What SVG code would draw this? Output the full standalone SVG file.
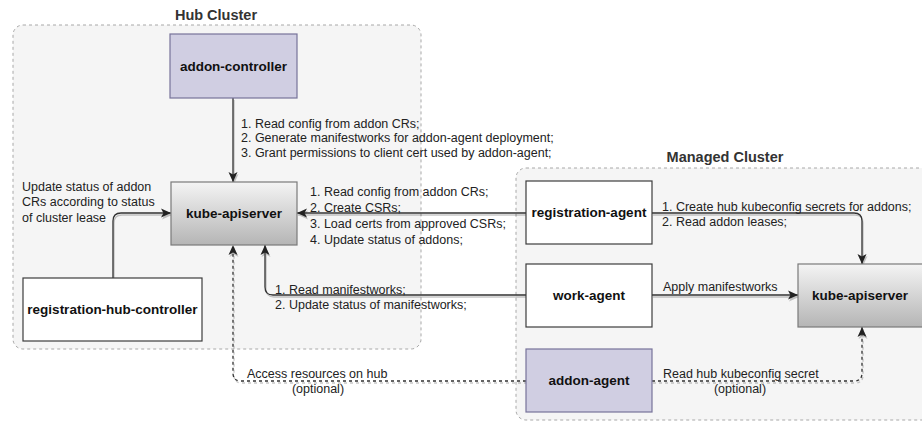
<svg xmlns="http://www.w3.org/2000/svg" width="922" height="422" viewBox="0 0 922 422">
<style>
.cluster{fill:#f5f5f5;stroke:#a8a8a8;stroke-width:1;stroke-dasharray:3 3}
.title{font-family:"Liberation Sans",Arial,sans-serif;font-weight:bold;font-size:14.5px;fill:#333;text-anchor:middle}
.node-white{fill:#fff;stroke:#3c3c3c;stroke-width:1.2}
.node-purple{fill:#d0cee2;stroke:#77739a;stroke-width:1.2}
.node-grey{fill:url(#g);stroke:#7a7a7a;stroke-width:1.2}
.nt{font-family:"Liberation Sans",Arial,sans-serif;font-weight:bold;font-size:13.5px;fill:#111;text-anchor:middle;dominant-baseline:central}
.lbl{font-family:"Liberation Sans",Arial,sans-serif;font-size:12.5px;fill:#222}
.c{fill:none;stroke:#333;stroke-width:1.3;marker-end:url(#arr)}
.d{stroke-dasharray:3 3}
</style>
<defs>
<linearGradient id="g" x1="0" y1="0" x2="0" y2="1">
<stop offset="0" stop-color="#f4f4f4"/>
<stop offset="1" stop-color="#b5b5b5"/>
</linearGradient>
<marker id="arr" markerUnits="userSpaceOnUse" markerWidth="11" markerHeight="10" refX="10" refY="5" orient="auto">
<path d="M0,0.5 L10,5 L0,9.5 L2.5,5 Z" fill="#222" stroke="none"/>
</marker>
<filter id="sh" x="-5%" y="-5%" width="110%" height="120%">
<feDropShadow dx="1" dy="2" stdDeviation="0.6" flood-color="#000" flood-opacity="0.22"/>
</filter>
</defs>

<g id="hub-cluster">
<rect class="cluster" x="13" y="25" width="408" height="324" rx="10"/>
<text class="title" x="216" y="20">Hub Cluster</text>
</g>
<g id="managed-cluster">
<rect class="cluster" x="516" y="168" width="420" height="252" rx="10"/>
<text class="title" x="725" y="162">Managed Cluster</text>
</g>

<g id="connectors" filter="url(#sh)">
<path class="c" d="M233,98 V182"/>
<path class="c" d="M113,278 V221 Q113,213 121,213 H171"/>
<path class="c" d="M526,213 H297"/>
<path class="c" d="M526,295 H273 Q265,295 265,287 V245"/>
<path class="c d" d="M526,381 H241 Q233,381 233,373 V245"/>
<path class="c" d="M652,213 H854 Q862,213 862,221 V264"/>
<path class="c" d="M652,295 H798"/>
<path class="c d" d="M652,381 H854 Q862,381 862,373 V327"/>
</g>

<g id="labels">
<text class="lbl" x="241" y="127.5">1. Read config from addon CRs;</text>
<text class="lbl" x="241" y="142">2. Generate manifestworks for addon-agent deployment;</text>
<text class="lbl" x="241" y="156.5">3. Grant permissions to client cert used by addon-agent;</text>
<text class="lbl" x="22" y="190.5">Update status of addon</text>
<text class="lbl" x="22" y="206">CRs according to status</text>
<text class="lbl" x="22" y="221.5">of cluster lease</text>
<text class="lbl" x="310" y="195.5">1. Read config from addon CRs;</text>
<text class="lbl" x="310" y="211.5">2. Create CSRs;</text>
<text class="lbl" x="310" y="227.5">3. Load certs from approved CSRs;</text>
<text class="lbl" x="310" y="243.5">4. Update status of addons;</text>
<text class="lbl" x="275" y="293.5">1. Read manifestworks;</text>
<text class="lbl" x="275" y="308.5">2. Update status of manifestworks;</text>
<text class="lbl" x="247" y="377.5">Access resources on hub</text>
<text class="lbl" x="318" y="392.5" text-anchor="middle">(optional)</text>
<text class="lbl" x="662" y="210.5">1. Create hub kubeconfig secrets for addons;</text>
<text class="lbl" x="662" y="225.5">2. Read addon leases;</text>
<text class="lbl" x="663" y="290.5">Apply manifestworks</text>
<text class="lbl" x="663" y="377.5">Read hub kubeconfig secret</text>
<text class="lbl" x="740" y="392.5" text-anchor="middle">(optional)</text>
</g>

<g id="addon-controller">
<rect class="node-purple" x="170" y="34" width="127" height="64"/>
<text class="nt" x="233.5" y="66">addon-controller</text>
</g>
<g id="hub-kube-apiserver">
<rect class="node-grey" x="171" y="182" width="126" height="63"/>
<text class="nt" x="234" y="213.5">kube-apiserver</text>
</g>
<g id="registration-hub-controller">
<rect class="node-white" x="23" y="278" width="179" height="63"/>
<text class="nt" x="112.5" y="309.5">registration-hub-controller</text>
</g>
<g id="registration-agent">
<rect class="node-white" x="526" y="181" width="126" height="63"/>
<text class="nt" x="589" y="212.5">registration-agent</text>
</g>
<g id="work-agent">
<rect class="node-white" x="526" y="264" width="126" height="63"/>
<text class="nt" x="589" y="295.5">work-agent</text>
</g>
<g id="addon-agent">
<rect class="node-purple" x="526" y="349" width="126" height="63"/>
<text class="nt" x="589" y="380.5">addon-agent</text>
</g>
<g id="managed-kube-apiserver">
<rect class="node-grey" x="798" y="264" width="126" height="63"/>
<text class="nt" x="860" y="295.5">kube-apiserver</text>
</g>
</svg>
